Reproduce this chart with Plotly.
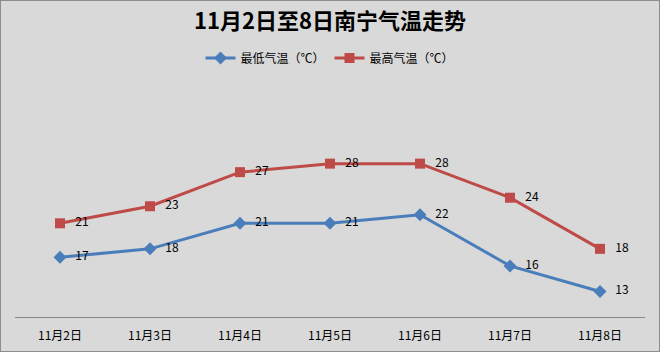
import plotly.graph_objects as go

dates = ["11月2日", "11月3日", "11月4日", "11月5日", "11月6日", "11月7日", "11月8日"]
low_temp = [17, 18, 21, 21, 22, 16, 13]
high_temp = [21, 23, 27, 28, 28, 24, 18]

font_family = "Noto Sans CJK SC, Microsoft YaHei, sans-serif"

fig = go.Figure()
fig.add_trace(go.Scatter(
    x=dates, y=low_temp, name="最低气温（℃）",
    mode="lines+markers+text",
    line=dict(color="#4A7EBB", width=3),
    marker=dict(symbol="diamond", size=10, color="#4A7EBB"),
    text=["   " + str(v) for v in low_temp], textposition="middle right",
    textfont=dict(size=12, color="#000000"),
))
fig.add_trace(go.Scatter(
    x=dates, y=high_temp, name="最高气温（℃）",
    mode="lines+markers+text",
    line=dict(color="#BE4B48", width=3),
    marker=dict(symbol="square", size=10, color="#BE4B48"),
    text=["   " + str(v) for v in high_temp], textposition="middle right",
    textfont=dict(size=12, color="#000000"),
))

fig.update_layout(
    width=660, height=352,
    margin=dict(l=15, r=15, t=104, b=35, autoexpand=False),
    paper_bgcolor="#D9D9D9", plot_bgcolor="#D9D9D9",
    font=dict(family=font_family, size=12, color="#000000"),
    title=dict(text="<b>11月2日至8日南宁气温走势</b>", x=0.5, xanchor="center",
               y=1 - 21 / 352, yanchor="middle",
               font=dict(size=22, family=font_family, color="#000000")),
    legend=dict(orientation="h", x=0.5, xanchor="center", y=1 + (104 - 58) / 213,
                yanchor="middle", font=dict(size=12), bgcolor="rgba(0,0,0,0)",
                itemwidth=30),
    showlegend=True,
    xaxis=dict(range=[-0.5, 6.5], showline=True, linecolor="#868686", linewidth=1,
               showgrid=False, ticks="outside", ticklen=8, tickcolor="rgba(0,0,0,0)",
               tickfont=dict(size=12), zeroline=False, fixedrange=True,
               automargin=False),
    yaxis=dict(range=[10, 35], showgrid=False, showticklabels=False, showline=False,
               zeroline=False, fixedrange=True, automargin=False),
    shapes=[dict(type="rect", xref="paper", yref="paper", x0=-15/630, x1=1 + 15/630,
                 y0=-35/213, y1=1 + 104/213, line=dict(color="#8C8C8C", width=2),
                 fillcolor="rgba(0,0,0,0)", layer="below")],
)

fig.write_html("out.html")
